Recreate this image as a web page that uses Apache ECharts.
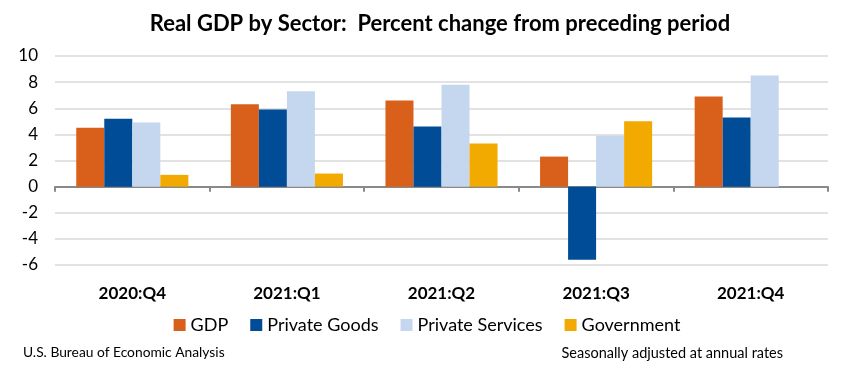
<!DOCTYPE html>
<html>
<head>
<meta charset="utf-8">
<script src="https://cdn.jsdelivr.net/npm/echarts@6/dist/echarts.min.js"></script>
<style>
html,body{margin:0;padding:0;background:#fff;}
#chart{width:854px;height:373px;}
</style>
</head>
<body>
<div id="chart"></div>
<script>
const categories = ['2020:Q4', '2021:Q1', '2021:Q2', '2021:Q3', '2021:Q4'];
const gdp = [4.5, 6.3, 6.6, 2.3, 6.9];
const privateGoods = [5.2, 5.9, 4.6, -5.6, 5.3];
const privateServices = [4.9, 7.3, 7.8, 3.9, 8.5];
const government = [0.9, 1.0, 3.3, 5.0, 0.0];
const yTicks = [-6, -4, -2, 0, 2, 4, 6, 8, 10];

const FONT = 'Lato, Carlito, Calibri, sans-serif';
const chart = echarts.init(document.getElementById('chart'));
const mk = (name, data, color) => ({
  name, type: 'bar', data, xAxisIndex: 0,
  itemStyle: { color },
  barGap: '0%', barCategoryGap: '27.5%',
  animation: false
});
chart.setOption({
  animation: false,
  title: [
    { text: 'Real GDP by Sector:  Percent change from preceding period', left: 435, top: 8, textAlign: 'center',
      textStyle: { fontFamily: FONT, fontSize: 22, fontWeight: 'bold', color: '#000' } },
    { text: 'U.S. Bureau of Economic Analysis', left: 18, top: 341,
      textStyle: { fontFamily: FONT, fontSize: 13.8, fontWeight: 'normal', color: '#000' } },
    { text: 'Seasonally adjusted at annual rates', right: 66, top: 341,
      textStyle: { fontFamily: FONT, fontSize: 14.5, fontWeight: 'normal', color: '#000' } }
  ],
  legend: {
    data: ['GDP', 'Private Goods', 'Private Services', 'Government'],
    left: 'center', top: 311,
    itemWidth: 12, itemHeight: 12, itemGap: 22,
    icon: 'rect',
    textStyle: { fontFamily: FONT, fontSize: 18, color: '#000' }
  },
  grid: { left: 55, right: 26, top: 56, bottom: 108, containLabel: false },
  xAxis: [
    { type: 'category', data: categories,
      axisLine: { onZero: true, lineStyle: { color: '#898989', width: 2 } },
      axisTick: { show: true, length: 5, lineStyle: { color: '#898989', width: 2 } },
      axisLabel: { show: false }, splitLine: { show: false } },
    { type: 'category', data: categories, position: 'bottom',
      axisLine: { show: false, onZero: false }, axisTick: { show: false },
      axisLabel: { fontFamily: FONT, fontSize: 17, fontWeight: 'bold', color: '#000', margin: 20 } }
  ],
  yAxis: {
    type: 'value', min: yTicks[0], max: yTicks[yTicks.length - 1], interval: 2,
    axisLine: { show: false }, axisTick: { show: false },
    axisLabel: { fontFamily: FONT, fontSize: 17, color: '#000', margin: 17 },
    splitLine: { lineStyle: { color: '#d9d9d9', width: 1.5 } }
  },
  series: [
    mk('GDP', gdp, '#D9601A'),
    mk('Private Goods', privateGoods, '#004C97'),
    mk('Private Services', privateServices, '#C4D7EE'),
    mk('Government', government, '#F2A900')
  ]
});
</script>
</body>
</html>
